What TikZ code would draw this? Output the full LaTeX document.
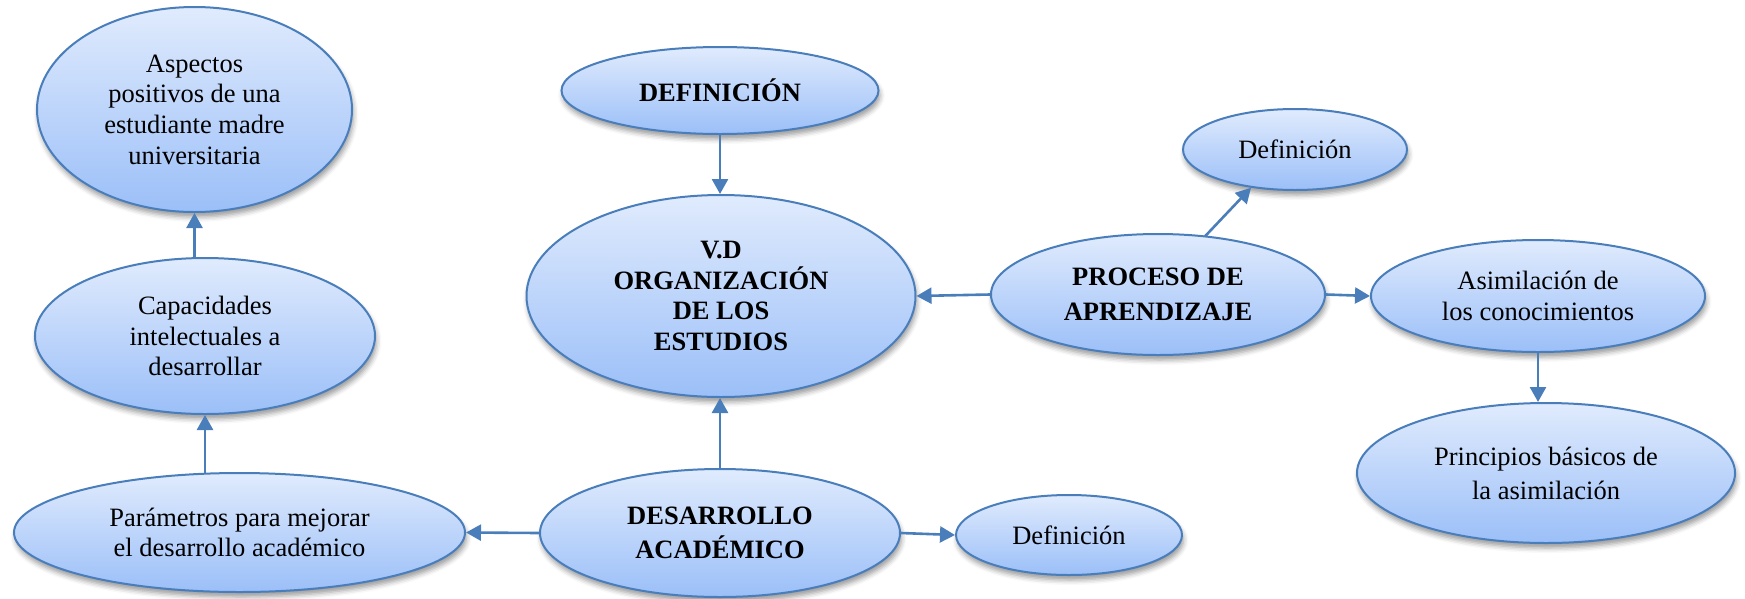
\documentclass[tikz,border=0pt]{standalone}
\usepackage{fontspec}
\setmainfont{Liberation Serif}
\usetikzlibrary{shapes.geometric,arrows.meta,shadows.blur,calc}
\definecolor{bordc}{RGB}{74,126,187}
\definecolor{topc}{RGB}{224,235,253}
\definecolor{botc}{RGB}{155,191,248}
\tikzset{
  bub/.style={ellipse, draw=bordc, line width=2pt, top color=topc, bottom color=botc,
    inner sep=0pt, align=center, text=black,
    font=\fontsize{26.5}{30.6}\selectfont,
    blur shadow={shadow xshift=1.5pt, shadow yshift=-5pt, shadow blur radius=5pt, shadow opacity=40}},
  bubb/.style={bub, font=\fontsize{26.5}{34.5}\selectfont\bfseries},
  bubw/.style={bub, font=\fontsize{26.5}{34}\selectfont},
  arr/.style={draw=bordc, line width=2.6pt, -{Triangle[length=15pt,width=16pt]}, shorten <=-1pt}
}
\begin{document}
\begin{tikzpicture}[x=1pt,y=-1pt]
\useasboundingbox (0,0) rectangle (1745,598);
% nodes
\node[bub, minimum width=315pt, minimum height=205pt] (asp) at (194.5,109.5)
  {Aspectos\\positivos de una\\estudiante madre\\universitaria};
\node[bub, minimum width=340pt, minimum height=156pt] (cap) at (205,336)
  {Capacidades\\intelectuales a\\desarrollar};
\node[bub, minimum width=451pt, minimum height=119pt] (par) at (239.5,532.5)
  {Parámetros para mejorar\\el desarrollo académico};
\node[bubb, minimum width=360pt, minimum height=128pt] (des) at (720,533)
  {DESARROLLO\\ACADÉMICO};
\node[bub, minimum width=226pt, minimum height=80pt] (def2) at (1069,535)
  {Definición};
\node[bubb, minimum width=317pt, minimum height=87pt] (def1) at (720,90.5)
  {DEFINICIÓN};
\node[bubb, minimum width=389pt, minimum height=202pt, font=\fontsize{26.5}{30.6}\selectfont\bfseries] (vd) at (721,296)
  {V.D\\ORGANIZACIÓN\\DE LOS\\ESTUDIOS};
\node[bubb, minimum width=334pt, minimum height=121pt] (proc) at (1158,294.5)
  {PROCESO DE\\APRENDIZAJE};
\node[bub, minimum width=224pt, minimum height=81pt] (def3) at (1295,149.5)
  {Definición};
\node[bub, minimum width=334pt, minimum height=112pt] (asim) at (1538,296)
  {Asimilación de\\los conocimientos};
\node[bubw, minimum width=378pt, minimum height=140pt] (princ) at (1546,473)
  {Principios básicos de\\la asimilación};
% connectors
\draw[arr] (asp.south |- cap.north) -- (asp.south);
\draw[arr] (cap.south |- par.north) -- (cap.south);
\draw[arr] (des.north) -- (des.north |- vd.south);
\draw[arr] (des.west) -- (par.east);
\draw[arr] (des.east) -- (def2.west);
\draw[arr] (def1.south) -- (def1.south |- vd.north);
\draw[arr] (proc.west) -- (vd.east);
\draw[arr] (proc.51) -- (def3.221);
\draw[arr] (proc.east) -- (asim.west);
\draw[arr] (asim.south) -- (asim.south |- princ.north);
\end{tikzpicture}
\end{document}
